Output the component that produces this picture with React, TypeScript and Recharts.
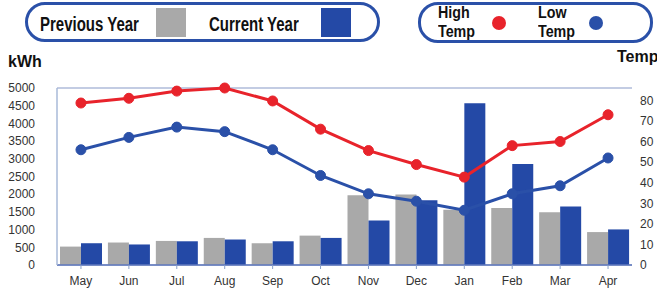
import React from "react";
import { ComposedChart, Bar, Line, XAxis, YAxis, CartesianGrid } from "recharts";

const months = ["May", "Jun", "Jul", "Aug", "Sep", "Oct", "Nov", "Dec", "Jan", "Feb", "Mar", "Apr"];
const previousYear = [520, 635, 680, 765, 615, 830, 1970, 1990, 1560, 1610, 1490, 930];
const currentYear = [615, 580, 670, 720, 670, 765, 1260, 1830, 4570, 2850, 1650, 1005];
const highTemp = [78.7, 81, 84.5, 86, 79.7, 66, 55.6, 48.8, 42.7, 58, 60, 73];
const lowTemp = [56, 62, 67, 64.8, 56, 43.5, 34.6, 31, 26.6, 34.6, 38.5, 52];
const kwhTicks = [0, 500, 1000, 1500, 2000, 2500, 3000, 3500, 4000, 4500, 5000];
const tempTicks = [0, 10, 20, 30, 40, 50, 60, 70, 80];

const data = months.map((m, i) => ({
  month: m,
  prev: previousYear[i],
  curr: currentYear[i],
  high: highTemp[i],
  low: lowTemp[i],
}));

const FONT = "'Liberation Sans', Arial, sans-serif";
const BLUE = "#2449a6";
const GRAY = "#a9a9a9";
const RED = "#e8232b";
const LINEBLUE = "#2a50a8";

const boldText: React.CSSProperties = {
  position: "absolute",
  fontFamily: FONT,
  fontWeight: 700,
  fontSize: 16,
  color: "#111",
  whiteSpace: "nowrap",
  lineHeight: "16px",
};

const legendBig: React.CSSProperties = {
  ...boldText,
  fontSize: 20,
  lineHeight: "20px",
  transform: "scaleX(0.75)",
  transformOrigin: "left top",
};

const legendSmall: React.CSSProperties = {
  ...boldText,
  fontSize: 17,
  lineHeight: "19px",
  transform: "scaleX(0.84)",
  transformOrigin: "left top",
};

export default function App() {
  return (
    <div style={{ position: "absolute", left: 0, top: 0, width: 657, height: 290, background: "#fff" }}>
      <ComposedChart
        width={657}
        height={290}
        data={data}
        margin={{ top: 88, right: 0, bottom: 0, left: 0 }}
        barGap={0}
      >
        <CartesianGrid vertical={false} stroke="#8799c8" strokeWidth={1.2} />
        <XAxis
          dataKey="month"
          height={25}
          axisLine={{ stroke: "#5f78bd", strokeWidth: 1.5 }}
          tickLine={{ stroke: "#8aa0c8" }}
          tickSize={4}
          tickMargin={7}
          tick={{ fill: "#333", fontSize: 12, fontFamily: FONT }}
        />
        <YAxis
          yAxisId="kwh"
          orientation="left"
          width={57}
          domain={[0, 5000]}
          ticks={kwhTicks}
          interval={0}
          axisLine={{ stroke: "#a8bad8", strokeWidth: 1.5 }}
          tickLine={false}
          tickSize={0}
          tickMargin={22}
          tick={{ fill: "#333", fontSize: 12, fontFamily: FONT }}
        />
        <YAxis
          yAxisId="temp"
          orientation="right"
          width={25}
          domain={[0, 86]}
          ticks={tempTicks}
          interval={0}
          axisLine={false}
          tickLine={false}
          tickSize={0}
          tickMargin={8}
          tick={{ fill: "#333", fontSize: 12, fontFamily: FONT }}
        />
        <Bar yAxisId="kwh" dataKey="prev" fill={GRAY} barSize={21} isAnimationActive={false} />
        <Bar yAxisId="kwh" dataKey="curr" fill={BLUE} barSize={21} isAnimationActive={false} />
        <Line
          yAxisId="temp"
          dataKey="high"
          stroke={RED}
          strokeWidth={3}
          dot={{ r: 5, fill: RED, stroke: RED, strokeWidth: 1 }}
          isAnimationActive={false}
        />
        <Line
          yAxisId="temp"
          dataKey="low"
          stroke={LINEBLUE}
          strokeWidth={3}
          dot={{ r: 5, fill: LINEBLUE, stroke: LINEBLUE, strokeWidth: 1 }}
          isAnimationActive={false}
        />
      </ComposedChart>

      {/* Legend box 1 */}
      <div
        style={{
          position: "absolute",
          left: 25,
          top: 2,
          width: 355,
          height: 40,
          border: `3px solid ${LINEBLUE}`,
          borderRadius: 20,
          boxSizing: "border-box",
        }}
      />
      <div style={{ ...legendBig, left: 40, top: 14 }}>Previous Year</div>
      <div style={{ position: "absolute", left: 156, top: 8, width: 30, height: 29, background: GRAY }} />
      <div style={{ ...legendBig, left: 209, top: 14 }}>Current Year</div>
      <div style={{ position: "absolute", left: 321, top: 8, width: 30, height: 29, background: BLUE }} />

      {/* Legend box 2 */}
      <div
        style={{
          position: "absolute",
          left: 418,
          top: 2,
          width: 235,
          height: 41,
          border: `3px solid ${LINEBLUE}`,
          borderRadius: 20,
          boxSizing: "border-box",
        }}
      />
      <div style={{ ...legendSmall, left: 438, top: 3 }}>High<br />Temp</div>
      <div style={{ position: "absolute", left: 492, top: 16, width: 14, height: 14, borderRadius: 7, background: RED }} />
      <div style={{ ...legendSmall, left: 538, top: 3 }}>Low<br />Temp</div>
      <div style={{ position: "absolute", left: 589, top: 16, width: 14, height: 14, borderRadius: 7, background: LINEBLUE }} />

      <div style={{ ...boldText, left: 8, top: 54 }}>kWh</div>
      <div style={{ ...boldText, left: 617, top: 49 }}>Temp</div>
    </div>
  );
}
